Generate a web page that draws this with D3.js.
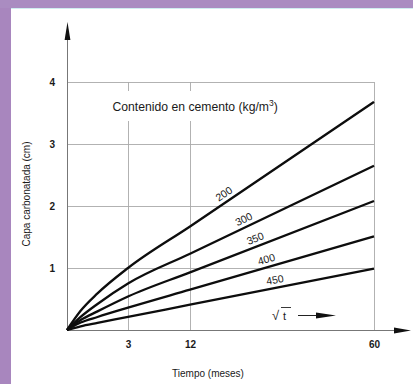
<!DOCTYPE html>
<html>
<head>
<meta charset="utf-8">
<script src="https://cdn.jsdelivr.net/npm/d3@7"></script>
<style>
  html, body { margin: 0; padding: 0; background: #a886be; }
  svg { display: block; }
  text { font-family: "Liberation Sans", Arial, Helvetica, sans-serif; fill: #1a1a1a; }
</style>
</head>
<body>
<svg id="chart" width="413" height="384"></svg>
<script>
// ---- data ----
const timeMonths = [0, 0.15, 0.75, 3, 12, 60];           // sample times (months)
const xTickValues = [3, 12, 60];                          // labelled time ticks
const yTickValues = [1, 2, 3, 4];                         // labelled depth ticks
const cementContents = ["200", "300", "350", "400", "450"];
const depth200 = [0, 0.31, 0.59, 1.00, 1.67, 3.68];
const depth300 = [0, 0.21, 0.42, 0.75, 1.23, 2.65];
const depth350 = [0, 0.16, 0.30, 0.54, 0.93, 2.08];
const depth400 = [0, 0.12, 0.21, 0.36, 0.65, 1.51];
const depth450 = [0, 0.06, 0.115, 0.21, 0.41, 0.99];
const labelTimes = [19, 23, 25.5, 28, 30];                // where each curve label sits
const titleText = "Contenido en cemento (kg/m";
const xTitle = "Tiempo (meses)";
const yTitle = "Capa carbonatada (cm)";

const series = [depth200, depth300, depth350, depth400, depth450];

const svg = d3.select("#chart");

// frame / panel
svg.append("rect").attr("x", 0).attr("y", 0).attr("width", 413).attr("height", 384).attr("fill", "#a886be");
svg.append("rect").attr("x", 0).attr("y", 0).attr("width", 413).attr("height", 8).attr("fill", "#aa8cc1");
svg.append("rect").attr("x", 11).attr("y", 8).attr("width", 402).attr("height", 376).attr("fill", "#ffffff");
svg.append("line").attr("x1", 11).attr("x2", 413).attr("y1", 8.5).attr("y2", 8.5).attr("stroke", "#cfeef0").attr("stroke-width", 1);

// scales: horizontal axis is in sqrt(t) (non-uniform in the original drawing)
const x = d3.scaleLinear()
  .domain([0, Math.sqrt(3), Math.sqrt(12), Math.sqrt(60)])
  .range([67, 128, 190, 374]);
const xt = t => x(Math.sqrt(t));
const y = d3.scaleLinear().domain([0, 4]).range([330, 82]);

const grid = svg.append("g").attr("stroke", "#a9a9a9").attr("stroke-width", 0.9);
// horizontal grid lines
grid.selectAll("line.h").data(yTickValues).join("line")
  .attr("x1", xt(0)).attr("x2", xt(60))
  .attr("y1", d => y(d) + 0.5).attr("y2", d => y(d) + 0.5);
// vertical grid lines
grid.selectAll("line.v").data(xTickValues).join("line")
  .attr("x1", d => Math.round(xt(d)) + 0.5).attr("x2", d => Math.round(xt(d)) + 0.5)
  .attr("y1", y(0)).attr("y2", y(4));

// title with white backing (interrupts grid lines like the original)
const title = svg.append("text")
  .attr("x", 112.5).attr("y", 111)
  .attr("font-size", 12.2)
  .text(titleText);
title.append("tspan").attr("font-size", 8.5).attr("dy", -5).text("3");
title.append("tspan").attr("font-size", 12.2).attr("dy", 5).text(")");
const bb = title.node().getBBox();
svg.insert("rect", "text")
  .attr("x", bb.x - 3).attr("y", 91).attr("width", bb.width + 6).attr("height", 30)
  .attr("fill", "#fff");

// axes lines
const axes = svg.append("g");
axes.append("line").attr("x1", 67.5).attr("x2", 67.5).attr("y1", y(0)).attr("y2", 38)
  .attr("stroke", "#777").attr("stroke-width", 1);
axes.append("path").attr("d", "M67.5,22 L64.6,40 L70.4,40 Z").attr("fill", "#111");
axes.append("line").attr("x1", xt(0)).attr("x2", 396).attr("y1", y(0) + 0.5).attr("y2", y(0) + 0.5)
  .attr("stroke", "#777").attr("stroke-width", 1);
axes.append("path").attr("d", "M411,330.5 L394,327.6 L394,333.4 Z").attr("fill", "#111");

// y tick labels via d3 axis
const yAxis = d3.axisLeft(y).tickValues(yTickValues).tickSize(0).tickPadding(12).tickFormat(d3.format("d"));
const gy = svg.append("g").attr("transform", "translate(67,0)").call(yAxis);
gy.select(".domain").remove();
gy.selectAll("text").attr("font-size", 10).attr("font-family", "Liberation Sans, Arial, sans-serif").attr("fill", "#1a1a1a").attr("font-weight", "bold");

// x tick labels via d3 axis
const xAxis = d3.axisBottom(x).tickValues(xTickValues.map(Math.sqrt)).tickSize(0).tickPadding(11)
  .tickFormat(d => d3.format("d")(Math.round(d * d)));
const gx = svg.append("g").attr("transform", "translate(0,330)").call(xAxis);
gx.select(".domain").remove();
gx.selectAll("text").attr("font-size", 10).attr("font-family", "Liberation Sans, Arial, sans-serif").attr("fill", "#1a1a1a").attr("font-weight", "bold");

// axis titles
svg.append("text").attr("x", 208).attr("y", 377).attr("text-anchor", "middle")
  .attr("font-size", 10).text(xTitle);
svg.append("text").attr("transform", "translate(30,194) rotate(-90)").attr("text-anchor", "middle")
  .attr("font-size", 10).text(yTitle);

// curves
const line = d3.line()
  .x((d, i) => xt(timeMonths[i]))
  .y(d => y(d))
  .curve(d3.curveMonotoneX);
svg.append("g").selectAll("path").data(series).join("path")
  .attr("d", d => line(d))
  .attr("fill", "none").attr("stroke", "#0d0d0d").attr("stroke-width", 2.3)
  .attr("stroke-linejoin", "round");

// curve labels, placed along the straight tail of each curve (between t=12 and t=60)
const i12 = timeMonths.indexOf(12), i60 = timeMonths.indexOf(60);
series.forEach((s, k) => {
  const x1 = xt(12), y1 = y(s[i12]), x2 = xt(60), y2 = y(s[i60]);
  const lx = xt(labelTimes[k]);
  const ly = y1 + (y2 - y1) * (lx - x1) / (x2 - x1);
  const ang = Math.atan2(y2 - y1, x2 - x1);
  const off = 8;
  const px = lx + Math.sin(ang) * off, py = ly - Math.cos(ang) * off;
  svg.append("text")
    .attr("transform", `translate(${px},${py}) rotate(${ang * 180 / Math.PI})`)
    .attr("text-anchor", "middle").attr("dy", "0.35em")
    .attr("font-size", 10.5).text(cementContents[k]);
});

// sqrt(t) marker with arrow
const sq = svg.append("g");
sq.append("text").attr("x", 272).attr("y", 320).attr("font-size", 13).text("\u221A");
sq.append("line").attr("x1", 281).attr("x2", 291).attr("y1", 307.5).attr("y2", 307.5).attr("stroke", "#222").attr("stroke-width", 0.9);
sq.append("text").attr("x", 283).attr("y", 320).attr("font-size", 11).text("t");
sq.append("line").attr("x1", 298).attr("x2", 320).attr("y1", 315.5).attr("y2", 315.5).attr("stroke", "#222").attr("stroke-width", 1);
sq.append("path").attr("d", "M336,315.5 L316,312.6 L316,318.4 Z").attr("fill", "#111");
</script>
</body>
</html>
